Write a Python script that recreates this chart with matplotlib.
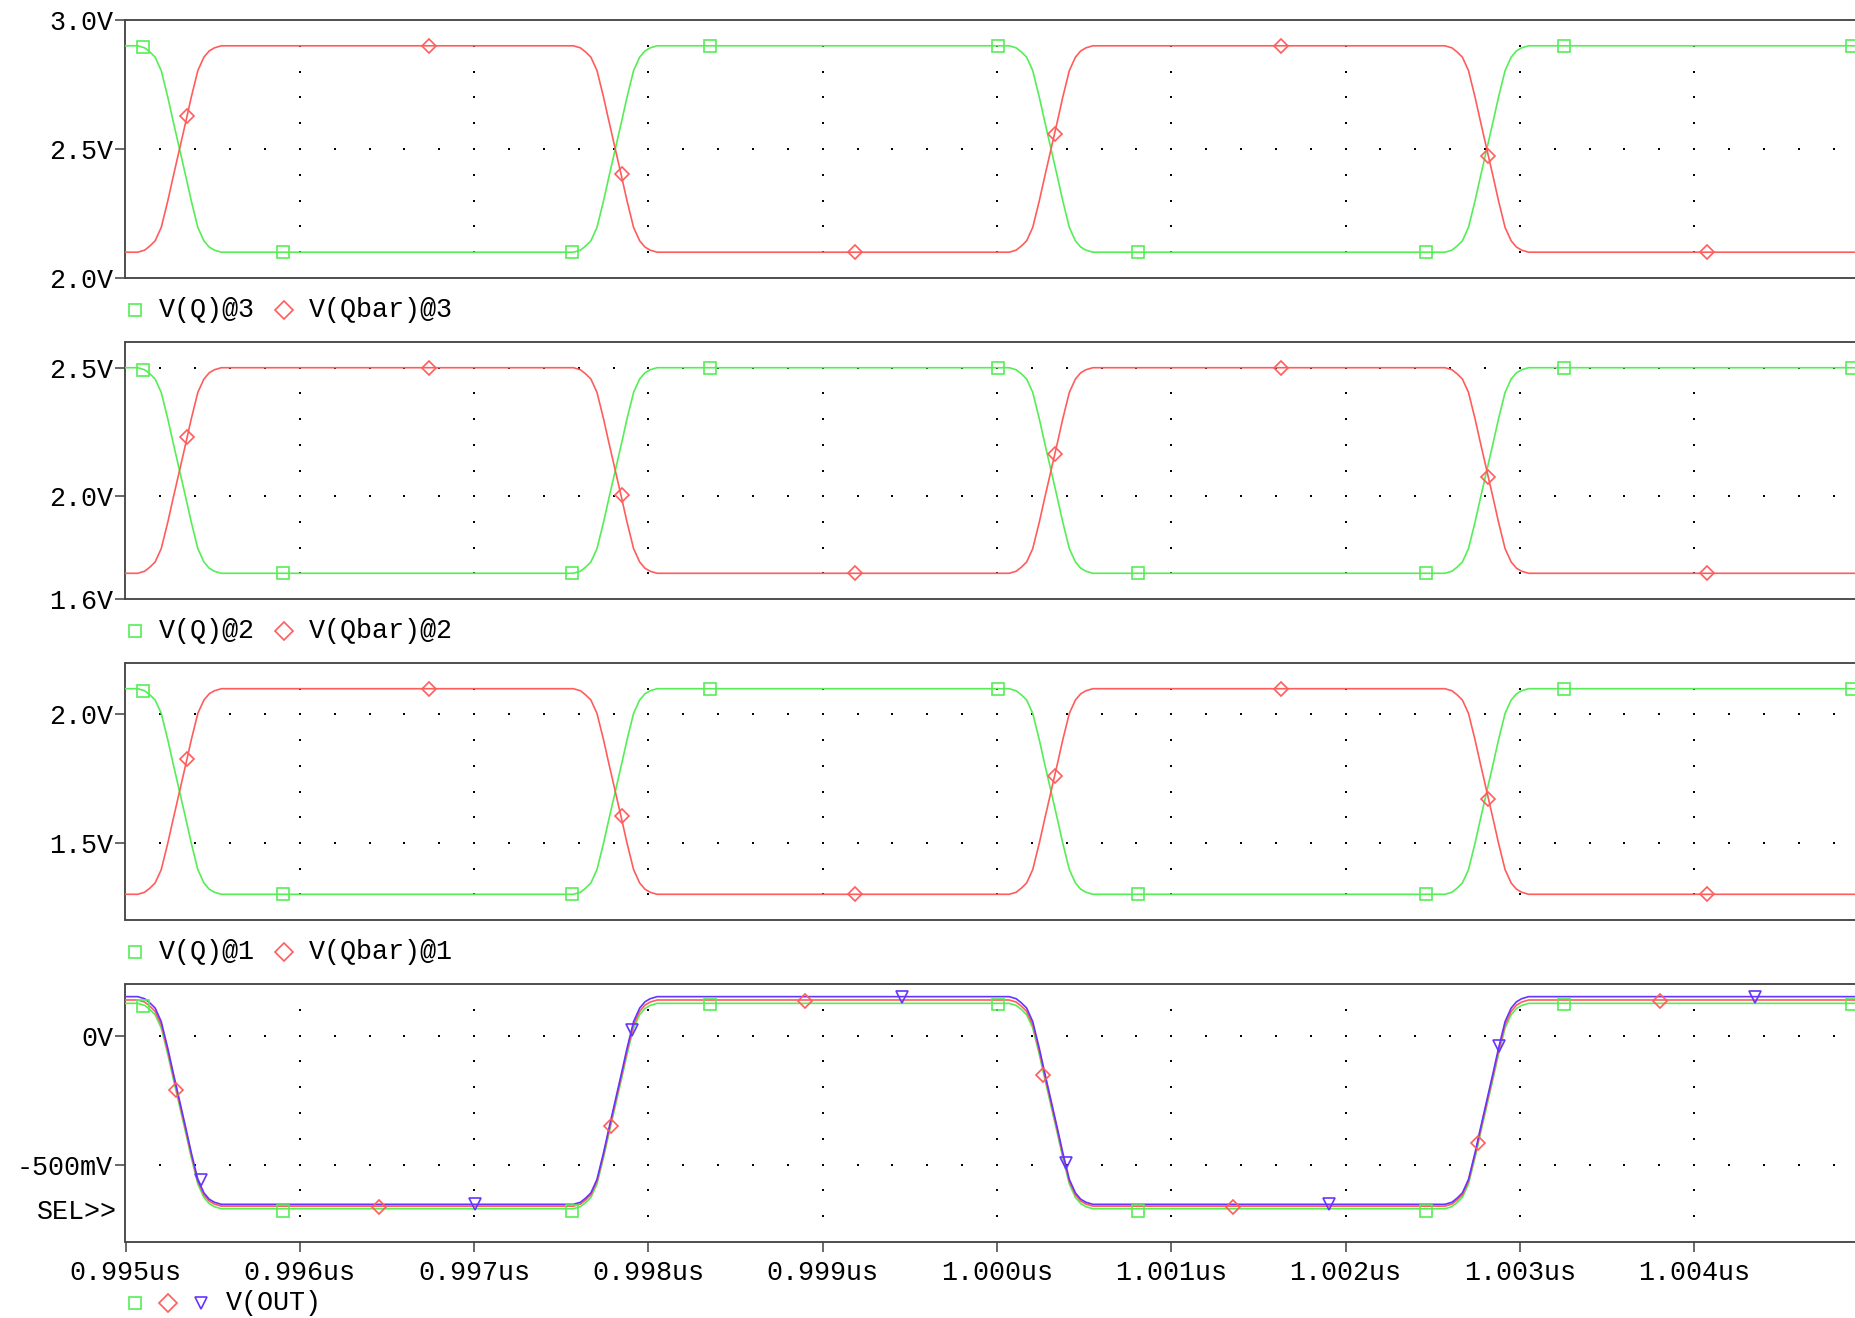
import numpy as np
import matplotlib.pyplot as plt

plt.rcParams['font.family'] = ['Liberation Mono', 'DejaVu Sans Mono']

W, H = 1856, 1318
GREEN = '#55ee55'
RED = '#ff5c5c'
BLUE = '#6633ff'
FS = 19.3

# switching instants (us), the same for every panel
edge_t = [0.99531, 0.99781, 1.00031, 1.00281]
# one edge: offset from the mid point (ns) / fraction done
edge_dt = [-0.24, -0.2, -0.17, -0.14, -0.105, -0.067, -0.038, 0.0,
           0.038, 0.067, 0.105, 0.14, 0.17, 0.2, 0.24]
edge_frac = [0.0, 0.01, 0.03, 0.055, 0.12, 0.25, 0.36, 0.5,
             0.64, 0.75, 0.88, 0.945, 0.975, 0.99, 1.0]

# (high, low) levels in volts
q3_lvl = (2.9, 2.1)
q2_lvl = (2.5, 1.7)
q1_lvl = (2.1, 1.3)
out_g_lvl = (0.125, -0.671)
out_r_lvl = (0.138, -0.661)
out_b_lvl = (0.151, -0.654)

# marker positions
sq_t = [0.995102, 0.995904, 0.997561, 0.998356, 1.000007, 1.000808, 1.002459, 1.003254, 1.004905]
dia_t = [0.995353, 0.996739, 0.997846, 0.999185, 1.000333, 1.001630, 1.002819, 1.004076]
q3_sq = [2.895, 2.1, 2.1, 2.9, 2.9, 2.1, 2.1, 2.9, 2.9]
q3_dia = [2.628, 2.9, 2.404, 2.1, 2.56, 2.9, 2.472, 2.1]
q2_sq = [2.49, 1.7, 1.7, 2.5, 2.5, 1.7, 1.7, 2.5, 2.5]
q2_dia = [2.229, 2.5, 2.005, 1.7, 2.165, 2.5, 2.073, 1.7]
q1_sq = [2.09, 1.3, 1.3, 2.1, 2.1, 1.3, 1.3, 2.1, 2.1]
q1_dia = [1.826, 2.1, 1.605, 1.3, 1.761, 2.1, 1.67, 1.3]

out_sq = [0.115, -0.679, -0.679, 0.124, 0.124, -0.679, -0.679, 0.124, 0.124]
out_dia_t = [0.995292, 0.996454, 0.997785, 0.998899, 1.000265, 1.001352, 1.002758, 1.003804]
out_dia = [-0.211, -0.665, -0.349, 0.133, -0.151, -0.665, -0.417, 0.133]
out_tri_t = [0.995435, 0.997004, 0.997908, 0.999457, 1.000394, 1.001902, 1.002880, 1.004348]
out_tri = [-0.56, -0.651, 0.023, 0.151, -0.495, -0.651, -0.041, 0.151]

x_ticks = [0.995, 0.996, 0.997, 0.998, 0.999, 1.000, 1.001, 1.002, 1.003, 1.004]
x_labels = ['0.995us', '0.996us', '0.997us', '0.998us', '0.999us',
            '1.000us', '1.001us', '1.002us', '1.003us', '1.004us']

panels = [
    dict(top=20, bot=278, ylim=(2.0, 3.0), yt=[2.0, 2.5, 3.0], yl=['2.0V', '2.5V', '3.0V']),
    dict(top=342, bot=599, ylim=(1.6, 2.6), yt=[1.6, 2.0, 2.5], yl=['1.6V', '2.0V', '2.5V']),
    dict(top=663, bot=920, ylim=(1.2, 2.2), yt=[1.5, 2.0], yl=['1.5V', '2.0V']),
    dict(top=984, bot=1242, ylim=(-0.8, 0.2), yt=[-0.5, 0.0], yl=['-500mV', '0V']),
]

XMIN, XMAX = 0.995, 1.0055
PX_NS = 174.3
LEFT = 125.5


def wave(lvl, start_high):
    hi, lo = lvl
    t = [XMIN]
    v = [hi if start_high else lo]
    high = start_high
    for te in edge_t:
        a, b = (hi, lo) if high else (lo, hi)
        for dt, f in zip(edge_dt, edge_frac):
            t.append(te + dt * 1e-3)
            v.append(a + (b - a) * f)
        high = not high
    t.append(XMAX)
    v.append(v[-1])
    return t, v


def dot_grid(ax, p):
    lo, hi = p['ylim']
    xs = np.round(np.arange(0.9952, XMAX, 0.0002), 5)
    for y in p['yt']:
        if lo < y < hi:
            ax.plot(xs, [y] * len(xs), 's', ms=2.0, color='k', mew=0, zorder=1)
    ys = np.round(np.arange(lo + 0.1, hi - 0.05, 0.1), 3)
    for x in np.round(np.arange(0.996, XMAX, 0.001), 4):
        ax.plot([x] * len(ys), ys, 's', ms=2.0, color='k', mew=0, zorder=1)


def legend(y_px, items):
    # items: (x_px, marker, color, text)
    for x_px, mk, col, txt in items:
        if mk:
            fig.lines.append(plt.Line2D([x_px / W], [1 - y_px / H], marker=mk, ms=9,
                                        mfc='none', mec=col, mew=1.2, ls='none',
                                        transform=fig.transFigure))
        if txt:
            fig.text(x_px / W, 1 - y_px / H, txt, fontsize=FS, va='center', ha='left')


fig = plt.figure(figsize=(W / 100, H / 100), dpi=100)
axes = []
for i, p in enumerate(panels):
    width = (XMAX - XMIN) * 1000 * PX_NS
    ax = fig.add_axes([LEFT / W, 1 - p['bot'] / H, width / W, (p['bot'] - p['top']) / H])
    ax.set_xlim(XMIN, XMAX)
    ax.set_ylim(*p['ylim'])
    ax.set_yticks(p['yt'])
    ax.set_yticklabels(p['yl'])
    ax.spines['right'].set_visible(False)
    for s in ('left', 'top', 'bottom'):
        ax.spines[s].set_color('#404040')
        ax.spines[s].set_linewidth(1.3)
    ax.tick_params(axis='y', direction='out', length=7, width=1.1, pad=2,
                   labelsize=FS, color='#404040')
    if i < 3:
        ax.set_xticks([])
    else:
        ax.set_xticks(x_ticks)
        ax.set_xticklabels(x_labels)
        ax.tick_params(axis='x', direction='out', length=7, width=1.1, pad=6,
                       labelsize=FS, color='#404040')
    dot_grid(ax, p)
    axes.append(ax)

# top three panels: V(Q) and V(Qbar) at stages 3, 2, 1
stage = [(q3_lvl, q3_sq, q3_dia), (q2_lvl, q2_sq, q2_dia), (q1_lvl, q1_sq, q1_dia)]
for ax, (lvl, sq, dia) in zip(axes[:3], stage):
    t, v = wave(lvl, True)
    ax.plot(t, v, color=GREEN, lw=1.2, zorder=3)
    t, v = wave(lvl, False)
    ax.plot(t, v, color=RED, lw=1.2, zorder=3)
    ax.plot(sq_t, sq, 's', ms=8, mfc='none', mec=GREEN, mew=1.2, zorder=4, clip_on=False)
    ax.plot(dia_t, dia, 'D', ms=7, mfc='none', mec=RED, mew=1.2, zorder=4, clip_on=False)

ax = axes[3]
for lvl, col in [(out_g_lvl, GREEN), (out_r_lvl, RED), (out_b_lvl, BLUE)]:
    t, v = wave(lvl, True)
    ax.plot(t, v, color=col, lw=1.2, zorder=3)
ax.plot(sq_t, out_sq, 's', ms=8, mfc='none', mec=GREEN, mew=1.2, zorder=4, clip_on=False)
ax.plot(out_dia_t, out_dia, 'D', ms=7, mfc='none', mec=RED, mew=1.2, zorder=4, clip_on=False)
ax.plot(out_tri_t, out_tri, 'v', ms=9, mfc='none', mec=BLUE, mew=1.2, zorder=4, clip_on=False)

fig.text(117 / W, 1 - 1212 / H, 'SEL>>', fontsize=FS, ha='right', va='center')

for y_px, n in [(310, 3), (631, 2), (952, 1)]:
    legend(y_px, [(135, 's', GREEN, None), (159, None, None, 'V(Q)@%d' % n),
                  (284, 'D', RED, None), (309, None, None, 'V(Qbar)@%d' % n)])
legend(1303, [(135, 's', GREEN, None), (168, 'D', RED, None), (201, 'v', BLUE, None),
              (226, None, None, 'V(OUT)')])

fig.savefig('out.png', dpi=100)
